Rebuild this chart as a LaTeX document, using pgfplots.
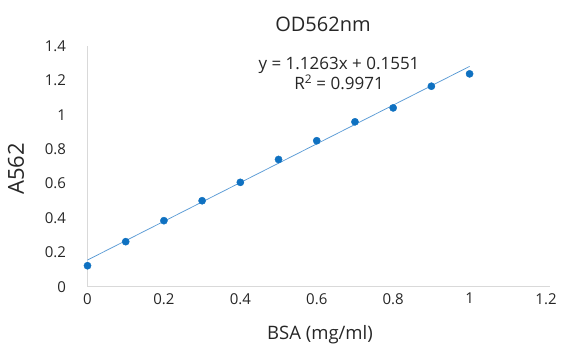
\documentclass[border=0pt]{standalone}
\usepackage{pgfplots}
\pgfplotsset{compat=1.18}
\usepackage{fontspec}
\setmainfont{Open Sans}
\definecolor{ptblue}{HTML}{0F71C1}
\definecolor{trend}{HTML}{5B9BD5}
\definecolor{axgray}{HTML}{D9D9D9}
\definecolor{txt}{HTML}{262626}
\begin{document}
\begin{tikzpicture}
\path[use as bounding box] (0,0) rectangle (567bp,355bp);
\begin{axis}[
  at={(87.5bp,68.3bp)}, anchor=south west,
  scale only axis, width=458.5bp, height=240.7bp,
  xmin=0, xmax=1.2, ymin=0, ymax=1.4,
  xtick={0,0.2,...,1.2}, ytick={0,0.2,...,1.4},
  xticklabels={0,0.2,0.4,0.6,0.8,1,1.2},
  yticklabels={0,0.2,0.4,0.6,0.8,1,1.2,1.4},
  axis x line*=bottom, axis y line*=left,
  axis line style={axgray, line width=0.75bp, -},
  x axis line style={shorten >=-4bp},
  major tick length=0pt,
  tick label style={font=\fontsize{15bp}{18bp}\selectfont, text=txt},
  xticklabel style={yshift=-3bp},
  yticklabel style={xshift=-18bp},
  clip=false,
]
\addplot[trend, line width=0.75bp, no markers] coordinates {(0,0.1551) (1,1.2814)};
\addplot[only marks, mark=*, mark size=3.6bp, ptblue, mark options={draw=ptblue, fill=ptblue}] coordinates {
(0,0.122) (0.1,0.262) (0.2,0.384) (0.3,0.500) (0.4,0.607) (0.5,0.740)
(0.6,0.849) (0.7,0.959) (0.8,1.040) (0.9,1.166) (1.0,1.238)};
\end{axis}
\node[text=txt, font=\fontsize{20bp}{24bp}\selectfont] at (323bp,331bp) {OD562nm};
\node[text=txt, font=\fontsize{17bp}{20bp}\selectfont, anchor=base, inner sep=0pt] at (339bp,285bp) {y = 1.1263x + 0.1551};
\node[text=txt, font=\fontsize{17bp}{20bp}\selectfont, anchor=base, inner sep=0pt] at (339bp,265bp) {R\textsuperscript{2} = 0.9971};
\node[text=txt, font=\fontsize{22bp}{26bp}\selectfont, rotate=90] at (16bp,186bp) {A562};
\node[text=txt, font=\fontsize{18.5bp}{22bp}\selectfont] at (320bp,20bp) {BSA (mg/ml)};
\end{tikzpicture}
\end{document}
